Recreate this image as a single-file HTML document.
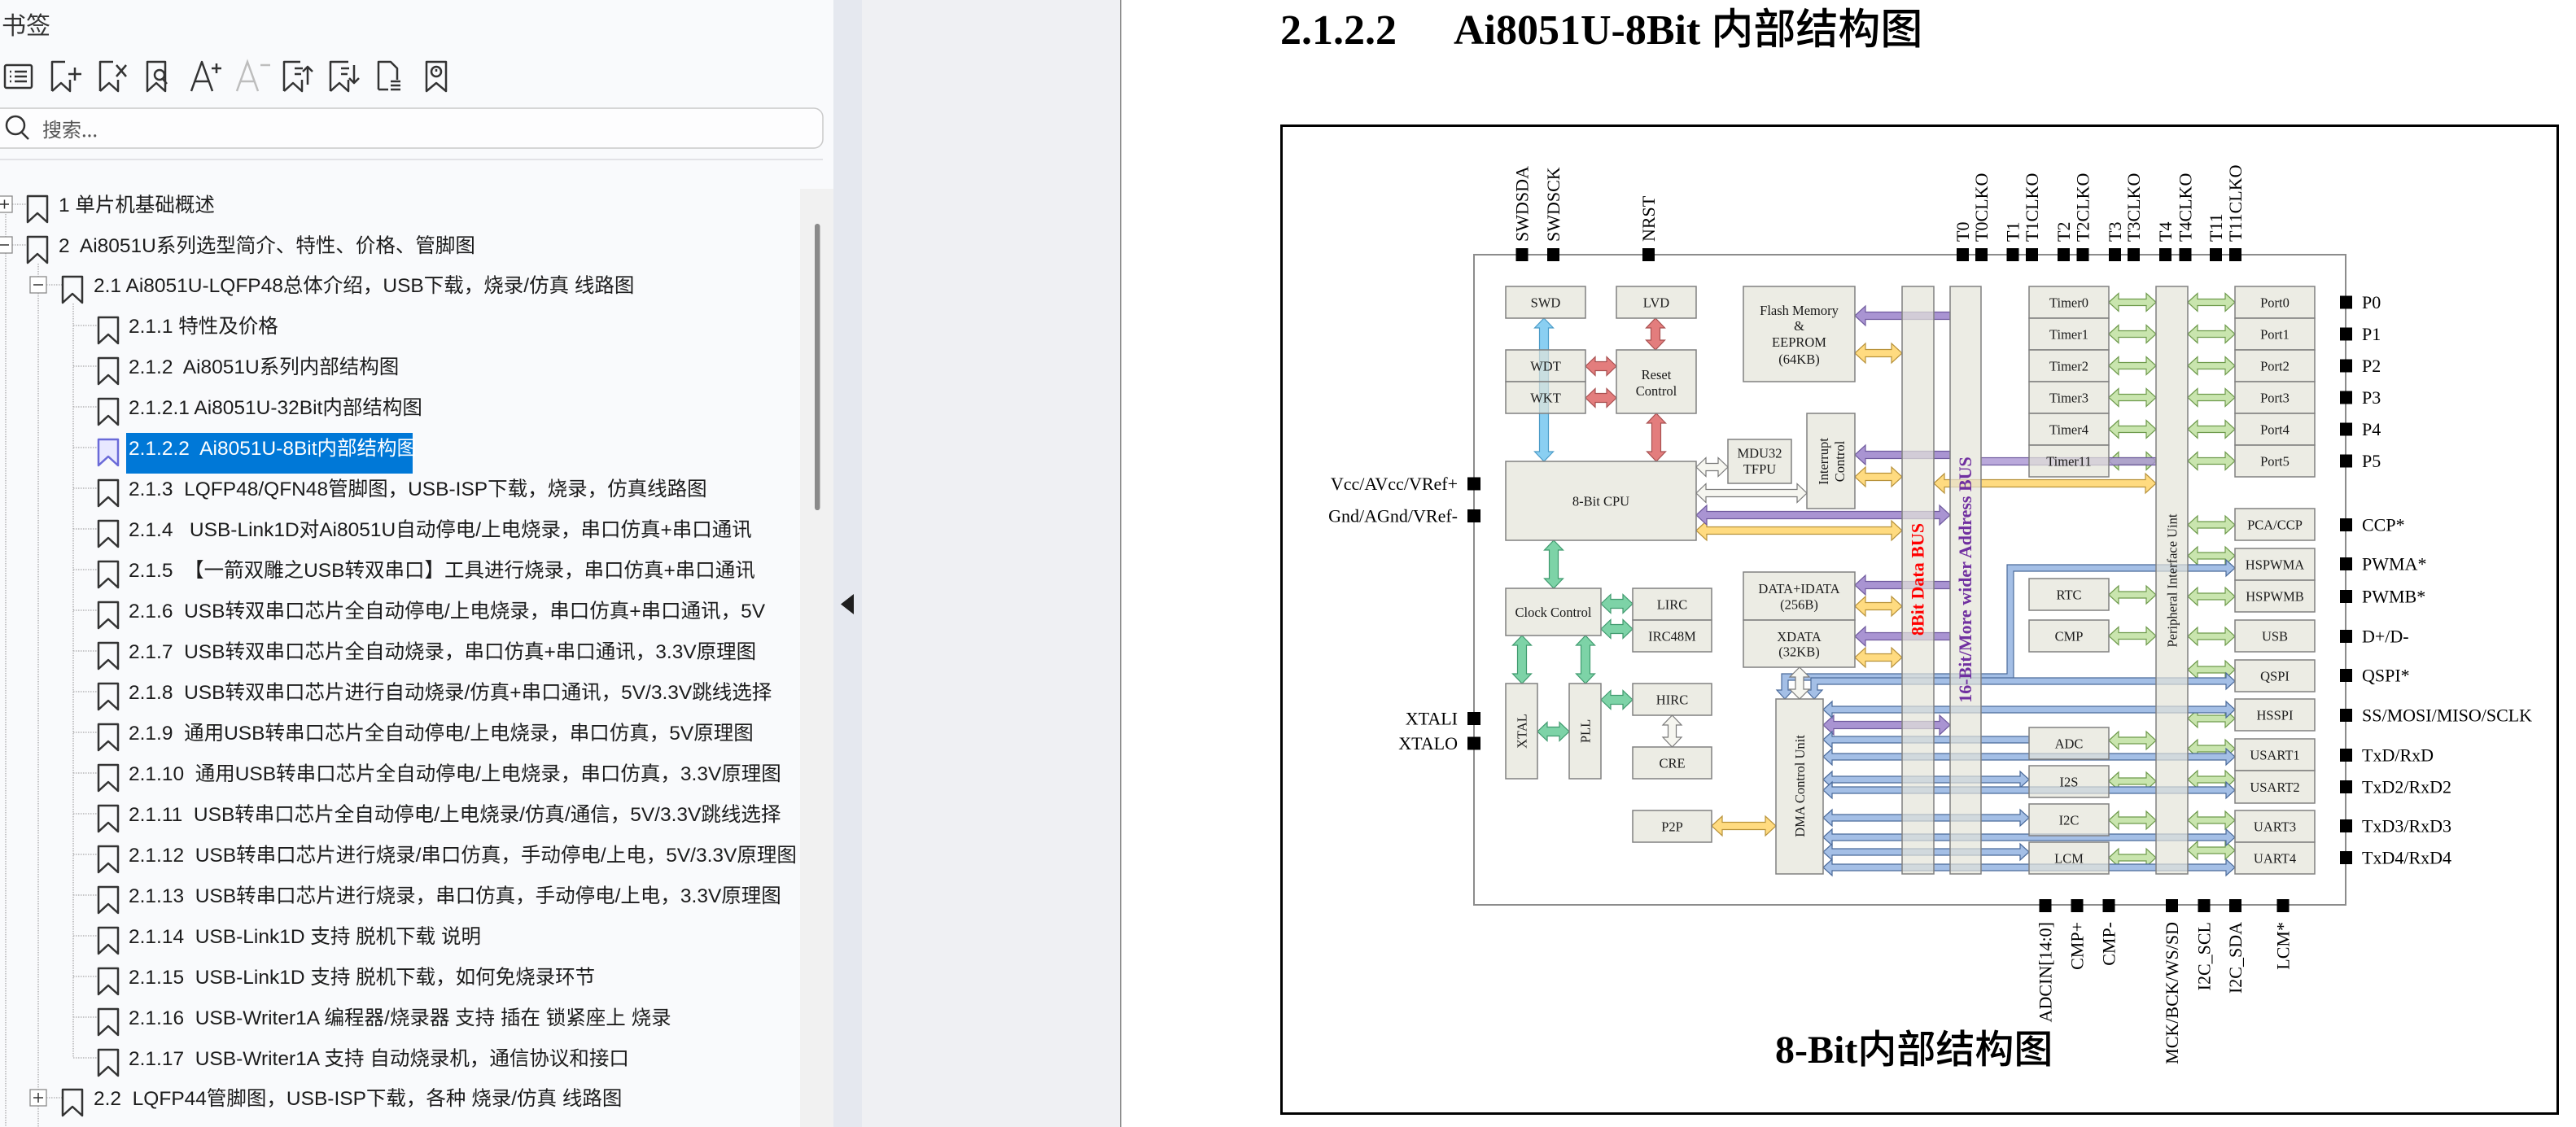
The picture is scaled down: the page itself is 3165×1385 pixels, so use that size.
<!DOCTYPE html>
<html><head><meta charset="utf-8"><style>
html,body{margin:0;padding:0;background:#fff;width:3165px;height:1385px;overflow:hidden}
svg{display:block}
text{white-space:pre}
.sb{font-family:"Liberation Sans","Noto Sans CJK SC",sans-serif;font-size:24.5px;fill:#1c1c1c}
.bx{fill:#E4E4D8;fill-opacity:.7;stroke:#808080;stroke-width:1.5}
.t{font-family:"Liberation Serif",serif;font-size:16.5px;fill:#1a1a1a;text-anchor:middle}
.pl{font-family:"Liberation Serif",serif;font-size:22px;fill:#000}
.pin{fill:#000}
.red{fill:#E37D7D;stroke:#A85050;stroke-width:1.2}
.sky{fill:#8ACFF2;stroke:#4C9CC8;stroke-width:1.2}
.mint{fill:#7DD3A7;stroke:#3F9A6E;stroke-width:1.2}
.lg{fill:#C9E5AE;stroke:#6E9A4C;stroke-width:1.2}
.yel{fill:#FFDB80;stroke:#B8923A;stroke-width:1.2}
.pur{fill:#A994D2;stroke:#6F5A9E;stroke-width:1.2}
.blu{fill:#A4BFE6;stroke:#4A6A9A;stroke-width:1.2}
.wht{fill:#F6F6F0;stroke:#7A7A7A;stroke-width:1.2}
.ic{fill:none;stroke:#333;stroke-width:2.5;stroke-linejoin:round}
.dot{stroke:#a8a8a8;stroke-width:1.3;stroke-dasharray:1.5 1.5}
</style></head><body>
<svg width="3165" height="1385" viewBox="0 0 3165 1385" xmlns="http://www.w3.org/2000/svg">
<defs><clipPath id="sbc"><rect x="0" y="0" width="983" height="1385"/></clipPath></defs>

<!-- ===== Sidebar ===== -->
<rect x="0" y="0" width="1024" height="1385" fill="#F9FAFC"/>
<text x="2" y="42" font-family="Noto Sans CJK SC, sans-serif" font-size="30" fill="#333">书签</text>
<!-- toolbar icons -->
<g class="ic">
<rect x="6" y="80" width="33" height="28" rx="2"/>
<path d="M12 88h2M12 94h2M12 100h2M18 88h15M18 94h15M18 100h15"/>
<path d="M64 112V76h16M64 112l11-10l11 10V98"/><path d="M84 91h16M92 83v16"/>
<path d="M123 112V76h16M123 112l11-10l11 10V98"/><path d="M143 80l12 14M155 80l-12 14"/>
<path d="M181 112V76h22v36l-11-10z"/><circle cx="196" cy="92" r="6"/><path d="M200 97l5 6"/>
<path d="M235 112L248 76L261 112M240 100H256M266 78v12M260 84h12"/>
<path d="M349 112V76h20M349 112l11-10l11 10V98"/><path d="M362 84h10M362 91h8M378 104V82M372 88l6-6l6 6"/>
<path d="M406 112V76h22M406 112l11-10l11 10V98"/><path d="M419 84h10M419 91h8M435 80v22M429 96l6 6l6-6"/>
<path d="M465 110V76h15l8 8v14M465 110h12"/><path d="M480 100h12M480 105h12M480 110h12"/>
<path d="M524 112V76h24v36l-12-10z"/><circle cx="536" cy="88" r="6"/><path d="M536 85v3"/>
</g>
<path d="M291 112L304 76L317 112M296 100H312M320 80h12" fill="none" stroke="#bdbdbd" stroke-width="2.5"/>
<!-- search -->
<rect x="-10" y="133" width="1021" height="49" rx="11" fill="#fdfdfe" stroke="#c9c9c9" stroke-width="1.5"/>
<circle cx="19" cy="154" r="11" fill="none" stroke="#333" stroke-width="2.5"/>
<path d="M27 163l8 8" stroke="#333" stroke-width="2.5"/>
<text x="52" y="168" font-family="Noto Sans CJK SC, sans-serif" font-size="24" fill="#555">搜索...</text>
<line x1="0" y1="196" x2="1011" y2="196" stroke="#e2e2e6" stroke-width="2"/>
<!-- scrollbar -->
<rect x="983" y="232" width="41" height="1153" fill="#F1F1F1"/>
<rect x="1001" y="275" width="6.5" height="352" rx="3.2" fill="#8a8a8a"/>

<g clip-path="url(#sbc)">
<!-- dotted tree lines -->
<line class="dot" x1="7" y1="263" x2="7" y2="291"/>
<line class="dot" x1="7" y1="311" x2="7" y2="1385"/>
<line class="dot" x1="15" y1="251" x2="33" y2="251"/>
<line class="dot" x1="15" y1="301" x2="33" y2="301"/>
<line class="dot" x1="47" y1="324" x2="47" y2="340"/>
<line class="dot" x1="47" y1="360" x2="47" y2="1339"/>
<line class="dot" x1="47" y1="1359" x2="47" y2="1385"/>
<line class="dot" x1="57" y1="350" x2="76" y2="350"/>
<line class="dot" x1="57" y1="1349" x2="76" y2="1349"/>
<line class="dot" x1="90" y1="373" x2="90" y2="1299"/>
<g class="dot">
<line x1="90" y1="400" x2="119" y2="400"/><line x1="90" y1="450" x2="119" y2="450"/>
<line x1="90" y1="500" x2="119" y2="500"/><line x1="90" y1="550" x2="119" y2="550"/>
<line x1="90" y1="600" x2="119" y2="600"/><line x1="90" y1="650" x2="119" y2="650"/>
<line x1="90" y1="700" x2="119" y2="700"/><line x1="90" y1="750" x2="119" y2="750"/>
<line x1="90" y1="800" x2="119" y2="800"/><line x1="90" y1="850" x2="119" y2="850"/>
<line x1="90" y1="900" x2="119" y2="900"/><line x1="90" y1="950" x2="119" y2="950"/>
<line x1="90" y1="1000" x2="119" y2="1000"/><line x1="90" y1="1050" x2="119" y2="1050"/>
<line x1="90" y1="1100" x2="119" y2="1100"/><line x1="90" y1="1150" x2="119" y2="1150"/>
<line x1="90" y1="1200" x2="119" y2="1200"/><line x1="90" y1="1250" x2="119" y2="1250"/>
<line x1="90" y1="1300" x2="119" y2="1300"/>
</g>
<!-- expand boxes -->
<g fill="#fff" stroke="#8a8a8a" stroke-width="1.3">
<rect x="-4" y="241" width="19" height="20"/><rect x="-4" y="291" width="19" height="20"/>
<rect x="37" y="340" width="20" height="20"/><rect x="37" y="1339" width="20" height="20"/>
</g>
<path d="M0 251h11M5.5 245.5v11M0 301h11M41 350h12M41 1349h12M47 1343v12" stroke="#333" stroke-width="1.5"/>
<!-- bookmark icons -->
<g class="ic">
<path d="M34 241h24v32l-12-11l-12 11z"/>
<path d="M34 291h24v32l-12-11l-12 11z"/>
<path d="M77 340h24v32l-12-11l-12 11z"/>
<path d="M77 1339h24v32l-12-11l-12 11z"/>
<path d="M121 390h24v32l-12-11l-12 11z"/>
<path d="M121 440h24v32l-12-11l-12 11z"/>
<path d="M121 490h24v32l-12-11l-12 11z"/>
<path d="M121 590h24v32l-12-11l-12 11z"/>
<path d="M121 640h24v32l-12-11l-12 11z"/>
<path d="M121 690h24v32l-12-11l-12 11z"/>
<path d="M121 740h24v32l-12-11l-12 11z"/>
<path d="M121 790h24v32l-12-11l-12 11z"/>
<path d="M121 840h24v32l-12-11l-12 11z"/>
<path d="M121 890h24v32l-12-11l-12 11z"/>
<path d="M121 940h24v32l-12-11l-12 11z"/>
<path d="M121 990h24v32l-12-11l-12 11z"/>
<path d="M121 1040h24v32l-12-11l-12 11z"/>
<path d="M121 1090h24v32l-12-11l-12 11z"/>
<path d="M121 1140h24v32l-12-11l-12 11z"/>
<path d="M121 1190h24v32l-12-11l-12 11z"/>
<path d="M121 1240h24v32l-12-11l-12 11z"/>
<path d="M121 1290h24v32l-12-11l-12 11z"/>
</g>
<path d="M121 540h24v32l-12-11l-12 11z" fill="#E8E8FF" stroke="#6A6AD8" stroke-width="2.5" stroke-linejoin="round"/>
<rect x="155" y="532" width="352" height="50" fill="#0078D7"/>
<!-- row texts -->
<text class="sb" x="72" y="260">1 单片机基础概述</text>
<text class="sb" x="72" y="310">2  Ai8051U系列选型简介、特性、价格、管脚图</text>
<text class="sb" x="115" y="359">2.1 Ai8051U-LQFP48总体介绍，USB下载，烧录/仿真 线路图</text>
<text class="sb" x="158" y="409">2.1.1 特性及价格</text>
<text class="sb" x="158" y="459">2.1.2  Ai8051U系列内部结构图</text>
<text class="sb" x="158" y="509">2.1.2.1 Ai8051U-32Bit内部结构图</text>
<text class="sb" x="158" y="559" style="fill:#fff">2.1.2.2  Ai8051U-8Bit内部结构图</text>
<text class="sb" x="158" y="609">2.1.3  LQFP48/QFN48管脚图，USB-ISP下载，烧录，仿真线路图</text>
<text class="sb" x="158" y="659">2.1.4   USB-Link1D对Ai8051U自动停电/上电烧录，串口仿真+串口通讯</text>
<text class="sb" x="158" y="709">2.1.5  【一箭双雕之USB转双串口】工具进行烧录，串口仿真+串口通讯</text>
<text class="sb" x="158" y="759">2.1.6  USB转双串口芯片全自动停电/上电烧录，串口仿真+串口通讯，5V</text>
<text class="sb" x="158" y="809">2.1.7  USB转双串口芯片全自动烧录，串口仿真+串口通讯，3.3V原理图</text>
<text class="sb" x="158" y="859">2.1.8  USB转双串口芯片进行自动烧录/仿真+串口通讯，5V/3.3V跳线选择</text>
<text class="sb" x="158" y="909">2.1.9  通用USB转串口芯片全自动停电/上电烧录，串口仿真，5V原理图</text>
<text class="sb" x="158" y="959">2.1.10  通用USB转串口芯片全自动停电/上电烧录，串口仿真，3.3V原理图</text>
<text class="sb" x="158" y="1009">2.1.11  USB转串口芯片全自动停电/上电烧录/仿真/通信，5V/3.3V跳线选择</text>
<text class="sb" x="158" y="1059">2.1.12  USB转串口芯片进行烧录/串口仿真，手动停电/上电，5V/3.3V原理图</text>
<text class="sb" x="158" y="1109">2.1.13  USB转串口芯片进行烧录，串口仿真，手动停电/上电，3.3V原理图</text>
<text class="sb" x="158" y="1159">2.1.14  USB-Link1D 支持 脱机下载 说明</text>
<text class="sb" x="158" y="1209">2.1.15  USB-Link1D 支持 脱机下载，如何免烧录环节</text>
<text class="sb" x="158" y="1259">2.1.16  USB-Writer1A 编程器/烧录器 支持 插在 锁紧座上 烧录</text>
<text class="sb" x="158" y="1309">2.1.17  USB-Writer1A 支持 自动烧录机，通信协议和接口</text>
<text class="sb" x="115" y="1358">2.2  LQFP44管脚图，USB-ISP下载，各种 烧录/仿真 线路图</text>
</g>

<!-- ===== middle strip ===== -->
<rect x="1024" y="0" width="35" height="1385" fill="#E5E8EF"/>
<rect x="1059" y="0" width="317" height="1385" fill="#EFF0F3"/>
<rect x="1376" y="0" width="1.6" height="1385" fill="#858585"/>
<path d="M1033 742.5L1049 730V755z" fill="#1e1e1e"/>

<!-- ===== page ===== -->
<text x="1573" y="54" font-family="Liberation Serif, serif" font-weight="bold" font-size="52" fill="#000">2.1.2.2</text>
<text x="1786" y="54" font-family="Liberation Serif, serif" font-weight="bold" font-size="52" fill="#000">Ai8051U-8Bit <tspan font-family="Noto Sans CJK SC, sans-serif" font-weight="500">内部结构图</tspan></text>

<rect x="1574.5" y="154.5" width="1568" height="1214" fill="none" stroke="#000" stroke-width="3"/>
<rect x="1811" y="313" width="1071" height="799" fill="none" stroke="#8c8c8c" stroke-width="2"/>

<!-- arrows -->
<g class="mint">
<path d="M1909 664l11.5 12h-6v35h6l-11.5 12l-11.5-12h6v-35h-6z"/>
<path d="M1967 742l12-11.5v6h15v-6l12 11.5l-12 11.5v-6h-15v6z"/>
<path d="M1967 773l12-11.5v6h15v-6l12 11.5l-12 11.5v-6h-15v6z"/>
<path d="M1870 781l11.5 12h-6v35h6l-11.5 12l-11.5-12h6v-35h-6z"/>
<path d="M1948 781l11.5 12h-6v35h6l-11.5 12l-11.5-12h6v-35h-6z"/>
<path d="M1889 899l12-11.5v6h15v-6l12 11.5l-12 11.5v-6h-15v6z"/>
<path d="M1967 860l12-11.5v6h15v-6l12 11.5l-12 11.5v-6h-15v6z"/>
</g>
<g class="red">
<path d="M2034 391l11.5 12h-6v15h6l-11.5 12l-11.5-12h6v-15h-6z"/>
<path d="M1948 450l12-11.5v6h14v-6l12 11.5l-12 11.5v-6h-14v6z"/>
<path d="M1948 489l12-11.5v6h14v-6l12 11.5l-12 11.5v-6h-14v6z"/>
<path d="M2035 508l11.5 12h-6v35h6l-11.5 12l-11.5-12h6v-35h-6z"/>
</g>
<path class="sky" d="M1897 391l11.5 12h-6v152h6l-11.5 12l-11.5-12h6v-152h-6z"/>
<g class="wht">
<path d="M2084 574l12-11.5v7h15v-7l12 11.5l-12 11.5v-7h-15v7z"/>
<path d="M2084 606l12-11.5v7h112v-7l12 11.5l-12 11.5v-7h-112v7z"/>
<path d="M2054.5 879l11.5 12h-6.5v15h6.5l-11.5 12l-11.5-12h6.5v-15h-6.5z"/>
</g>
<g class="lg">
<path d="M2591 371.5l12-11v7h34v-7l12 11l-12 11v-7h-34v7z"/>
<path d="M2591 410.5l12-11v7h34v-7l12 11l-12 11v-7h-34v7z"/>
<path d="M2591 449.5l12-11v7h34v-7l12 11l-12 11v-7h-34v7z"/>
<path d="M2591 488.5l12-11v7h34v-7l12 11l-12 11v-7h-34v7z"/>
<path d="M2591 527.5l12-11v7h34v-7l12 11l-12 11v-7h-34v7z"/>
<path d="M2591 566.5l12-11v7h34v-7l12 11l-12 11v-7h-34v7z"/>
<path d="M2688 371.5l12-11v7h34v-7l12 11l-12 11v-7h-34v7z"/>
<path d="M2688 410.5l12-11v7h34v-7l12 11l-12 11v-7h-34v7z"/>
<path d="M2688 449.5l12-11v7h34v-7l12 11l-12 11v-7h-34v7z"/>
<path d="M2688 488.5l12-11v7h34v-7l12 11l-12 11v-7h-34v7z"/>
<path d="M2688 527.5l12-11v7h34v-7l12 11l-12 11v-7h-34v7z"/>
<path d="M2688 566.5l12-11v7h34v-7l12 11l-12 11v-7h-34v7z"/>
<path d="M2591 731l12-11v7h34v-7l12 11l-12 11v-7h-34v7z"/>
<path d="M2591 781.5l12-11v7h34v-7l12 11l-12 11v-7h-34v7z"/>
<path d="M2591 910l12-11v7h34v-7l12 11l-12 11v-7h-34v7z"/>
<path d="M2591 960l12-11v7h34v-7l12 11l-12 11v-7h-34v7z"/>
<path d="M2591 1008l12-11v7h34v-7l12 11l-12 11v-7h-34v7z"/>
<path d="M2591 1054l12-11v7h34v-7l12 11l-12 11v-7h-34v7z"/>
<path d="M2688 645l12-11v7h34v-7l12 11l-12 11v-7h-34v7z"/>
<path d="M2688 683l12-11v7h34v-7l12 11l-12 11v-7h-34v7z"/>
<path d="M2688 733l12-11v7h34v-7l12 11l-12 11v-7h-34v7z"/>
<path d="M2688 782l12-11v7h34v-7l12 11l-12 11v-7h-34v7z"/>
<path d="M2688 823l12-11v7h34v-7l12 11l-12 11v-7h-34v7z"/>
<path d="M2688 883l12-11v7h34v-7l12 11l-12 11v-7h-34v7z"/>
<path d="M2688 920l12-11v7h34v-7l12 11l-12 11v-7h-34v7z"/>
<path d="M2688 958l12-11v7h34v-7l12 11l-12 11v-7h-34v7z"/>
<path d="M2688 1008l12-11v7h34v-7l12 11l-12 11v-7h-34v7z"/>
<path d="M2688 1045l12-11v7h34v-7l12 11l-12 11v-7h-34v7z"/>
</g>
<g class="yel">
<path d="M2279 434l13-12v7.5h32v-7.5l13 12l-13 12v-7.5h-32v7.5z"/>
<path d="M2279 586l13-12v7.5h32v-7.5l13 12l-13 12v-7.5h-32v7.5z"/>
<path d="M2084 652l13-12v7.5h227v-7.5l13 12l-13 12v-7.5h-227v7.5z"/>
<path d="M2279 745l13-12v7.5h32v-7.5l13 12l-13 12v-7.5h-32v7.5z"/>
<path d="M2279 808l13-12v7.5h32v-7.5l13 12l-13 12v-7.5h-32v7.5z"/>
<path d="M2376 594l13-12v7.5h247v-7.5l13 12l-13 12v-7.5h-247v7.5z"/>
<path d="M2103 1015l13-12v7.5h53v-7.5l13 12l-13 12v-7.5h-53v7.5z"/>
</g>
<g class="pur">
<path d="M2279 388l13-12v7.5h104v9h-104v7.5z"/>
<path d="M2279 559l13-12v7.5h104v9h-104v7.5z"/>
<path d="M2084 633l13-12v7.5h286v-7.5l13 12l-13 12v-7.5h-286v7.5z"/>
<path d="M2279 719l13-12v7.5h104v9h-104v7.5z"/>
<path d="M2279 782l13-12v7.5h104v9h-104v7.5z"/>
<path d="M2240 891l13-12v7.5h130v-7.5l13 12l-13 12v-7.5h-130v7.5z"/>
<rect x="2434" y="562.5" width="215" height="9" fill-opacity=".8"/>
</g>
<g class="blu">
<polygon points="2193,859 2203,848 2197,848 2197,836 2474,836 2474,702 2735,702 2735,708 2746,698 2735,688 2735,694 2466,694 2466,828 2189,828 2189,848 2183,848"/>
<polygon points="2229,859 2239,848 2233,848 2233,841 2735,841 2735,847 2746,837 2735,827 2735,833 2225,833 2225,848 2219,848"/>
<path d="M2240 872l11-10v6h484v-6l11 10l-11 10v-6h-484v6z"/>
<path d="M2240 909l11-10v6h242v8h-242v6z"/>
<path d="M2240 930l11-10v6h484v-6l11 10l-11 10v-6h-484v6z"/>
<path d="M2240 958l11-10v6h231v-6l11 10l-11 10v-6h-231v6z"/>
<path d="M2240 971l11-10v6h484v-6l11 10l-11 10v-6h-484v6z"/>
<path d="M2240 1005l11-10v6h231v-6l11 10l-11 10v-6h-231v6z"/>
<path d="M2240 1029l11-10v6h484v-6l11 10l-11 10v-6h-484v6z"/>
<path d="M2240 1047l11-10v6h231v-6l11 10l-11 10v-6h-231v6z"/>
<path d="M2240 1066l11-10v6h484v-6l11 10l-11 10v-6h-484v6z"/>
</g>
<path class="wht" d="M2211 820l12 12h-7v15h7l-12 12l-12-12h7v-15h-7z"/>

<!-- boxes & bars -->
<g class="bx">
<rect x="1850" y="352" width="98" height="39"/>
<rect x="1986" y="352" width="98" height="39"/>
<rect x="1850" y="430" width="98" height="39"/>
<rect x="1850" y="469" width="98" height="39"/>
<rect x="1986" y="430" width="98" height="78"/>
<rect x="2142" y="352" width="137" height="117"/>
<rect x="2123" y="540" width="78" height="54"/>
<rect x="2220" y="508" width="59" height="117"/>
<rect x="1850" y="567" width="234" height="97"/>
<rect x="1850" y="723" width="117" height="58"/>
<rect x="2006" y="723" width="97" height="39"/>
<rect x="2006" y="762" width="97" height="39"/>
<rect x="1850" y="840" width="39" height="117"/>
<rect x="1928" y="840" width="39" height="117"/>
<rect x="2006" y="840" width="97" height="39"/>
<rect x="2006" y="918" width="97" height="39"/>
<rect x="2006" y="996" width="97" height="39"/>
<rect x="2142" y="703" width="137" height="59"/>
<rect x="2142" y="762" width="137" height="58"/>
<rect x="2182" y="859" width="58" height="215"/>
<rect x="2337" y="352" width="39" height="722"/>
<rect x="2396" y="352" width="38" height="722"/>
<rect x="2649" y="352" width="39" height="722"/>
<rect x="2493" y="352" width="98" height="39"/>
<rect x="2493" y="391" width="98" height="39"/>
<rect x="2493" y="430" width="98" height="39"/>
<rect x="2493" y="469" width="98" height="39"/>
<rect x="2493" y="508" width="98" height="39"/>
<rect x="2493" y="547" width="98" height="39"/>
<rect x="2746" y="352" width="98" height="39"/>
<rect x="2746" y="391" width="98" height="39"/>
<rect x="2746" y="430" width="98" height="39"/>
<rect x="2746" y="469" width="98" height="39"/>
<rect x="2746" y="508" width="98" height="39"/>
<rect x="2746" y="547" width="98" height="39"/>
<rect x="2493" y="711" width="98" height="39"/>
<rect x="2493" y="762" width="98" height="39"/>
<rect x="2493" y="894" width="98" height="39"/>
<rect x="2493" y="941" width="98" height="39"/>
<rect x="2493" y="988" width="98" height="39"/>
<rect x="2493" y="1035" width="98" height="39"/>
<rect x="2746" y="625" width="98" height="39"/>
<rect x="2746" y="674" width="98" height="39"/>
<rect x="2746" y="713" width="98" height="39"/>
<rect x="2746" y="762" width="98" height="39"/>
<rect x="2746" y="811" width="98" height="39"/>
<rect x="2746" y="859" width="98" height="39"/>
<rect x="2746" y="908" width="98" height="39"/>
<rect x="2746" y="947" width="98" height="40"/>
<rect x="2746" y="996" width="98" height="39"/>
<rect x="2746" y="1035" width="98" height="39"/>
</g>

<!-- box labels -->
<g class="t">
<text x="1899" y="377.5">SWD</text>
<text x="2035" y="377.5">LVD</text>
<text x="1899" y="455.5">WDT</text>
<text x="1899" y="494.5">WKT</text>
<text x="2035" y="466">Reset</text>
<text x="2035" y="486">Control</text>
<text x="2210.5" y="387">Flash Memory</text>
<text x="2210.5" y="406">&amp;</text>
<text x="2210.5" y="426">EEPROM</text>
<text x="2210.5" y="447">(64KB)</text>
<text x="2162" y="562.5">MDU32</text>
<text x="2162" y="582">TFPU</text>
<text transform="translate(2246,567) rotate(-90)">Interrupt</text>
<text transform="translate(2266,567) rotate(-90)">Control</text>
<text x="1967" y="621.5">8-Bit CPU</text>
<text x="1908.5" y="758">Clock Control</text>
<text x="2054.5" y="748.5">LIRC</text>
<text x="2054.5" y="787.5">IRC48M</text>
<text transform="translate(1875.5,898.5) rotate(-90)">XTAL</text>
<text transform="translate(1953.5,898.5) rotate(-90)">PLL</text>
<text x="2054.5" y="865.5">HIRC</text>
<text x="2054.5" y="943.5">CRE</text>
<text x="2054.5" y="1021.5">P2P</text>
<text x="2210.5" y="729">DATA+IDATA</text>
<text x="2210.5" y="748.5">(256B)</text>
<text x="2210.5" y="788">XDATA</text>
<text x="2210.5" y="806.5">(32KB)</text>
<text transform="translate(2217,966) rotate(-90)">DMA Control Unit</text>
<text transform="translate(2674.5,713.5) rotate(-90)">Peripheral Interface Uint</text>
<text x="2542" y="377.5">Timer0</text>
<text x="2542" y="416.5">Timer1</text>
<text x="2542" y="455.5">Timer2</text>
<text x="2542" y="494.5">Timer3</text>
<text x="2542" y="533.5">Timer4</text>
<text x="2542" y="572.5">Timer11</text>
<text x="2795" y="377.5">Port0</text>
<text x="2795" y="416.5">Port1</text>
<text x="2795" y="455.5">Port2</text>
<text x="2795" y="494.5">Port3</text>
<text x="2795" y="533.5">Port4</text>
<text x="2795" y="572.5">Port5</text>
<text x="2542" y="736.5">RTC</text>
<text x="2542" y="787.5">CMP</text>
<text x="2542" y="919.5">ADC</text>
<text x="2542" y="966.5">I2S</text>
<text x="2542" y="1013.5">I2C</text>
<text x="2542" y="1060.5">LCM</text>
<text x="2795" y="650.5">PCA/CCP</text>
<text x="2795" y="699.5">HSPWMA</text>
<text x="2795" y="738.5">HSPWMB</text>
<text x="2795" y="787.5">USB</text>
<text x="2795" y="836.5">QSPI</text>
<text x="2795" y="884.5">HSSPI</text>
<text x="2795" y="933.5">USART1</text>
<text x="2795" y="973">USART2</text>
<text x="2795" y="1021.5">UART3</text>
<text x="2795" y="1060.5">UART4</text>
</g>
<text transform="translate(2363.5,712) rotate(-90)" text-anchor="middle" font-family="Liberation Serif, serif" font-weight="bold" font-size="22" fill="#FF0000">8Bit Data BUS</text>
<text transform="translate(2422,712.5) rotate(-90)" text-anchor="middle" font-family="Liberation Serif, serif" font-weight="bold" font-size="22" fill="#7030A0">16-Bit/More wider Address BUS</text>

<!-- pins -->
<g class="pin">
<rect x="1862.5" y="305" width="15" height="16"/><rect x="1901" y="305" width="15" height="16"/>
<rect x="2018" y="305" width="15" height="16"/>
<rect x="2404" y="305" width="15" height="16"/><rect x="2427" y="305" width="15" height="16"/>
<rect x="2465.5" y="305" width="15" height="16"/><rect x="2489" y="305" width="15" height="16"/>
<rect x="2528" y="305" width="15" height="16"/><rect x="2551.5" y="305" width="15" height="16"/>
<rect x="2591" y="305" width="15" height="16"/><rect x="2614" y="305" width="15" height="16"/>
<rect x="2653" y="305" width="15" height="16"/><rect x="2677.5" y="305" width="15" height="16"/>
<rect x="2715" y="305" width="15" height="16"/><rect x="2739" y="305" width="15" height="16"/>
<rect x="1803" y="586.5" width="16" height="16"/><rect x="1803" y="626" width="16" height="16"/>
<rect x="1803" y="875" width="16" height="16"/><rect x="1803" y="905.5" width="16" height="16"/>
<rect x="2875" y="363.5" width="15" height="16"/><rect x="2875" y="402.5" width="15" height="16"/>
<rect x="2875" y="441.5" width="15" height="16"/><rect x="2875" y="480.5" width="15" height="16"/>
<rect x="2875" y="519.5" width="15" height="16"/><rect x="2875" y="558.5" width="15" height="16"/>
<rect x="2875" y="637" width="15" height="16"/><rect x="2875" y="685" width="15" height="16"/>
<rect x="2875" y="725" width="15" height="16"/><rect x="2875" y="774" width="15" height="16"/>
<rect x="2875" y="822" width="15" height="16"/><rect x="2875" y="871" width="15" height="16"/>
<rect x="2875" y="920" width="15" height="16"/><rect x="2875" y="959" width="15" height="16"/>
<rect x="2875" y="1007" width="15" height="16"/><rect x="2875" y="1046" width="15" height="16"/>
<rect x="2505.5" y="1105" width="15" height="16"/><rect x="2544.5" y="1105" width="15" height="16"/>
<rect x="2583.5" y="1105" width="15" height="16"/><rect x="2661" y="1105" width="15" height="16"/>
<rect x="2700.5" y="1105" width="15" height="16"/><rect x="2739" y="1105" width="15" height="16"/>
<rect x="2797.5" y="1105" width="15" height="16"/>
</g>

<!-- pin labels -->
<g class="pl">
<text transform="translate(1877.5,297) rotate(-90)">SWDSDA</text>
<text transform="translate(1916,297) rotate(-90)">SWDSCK</text>
<text transform="translate(2033,297) rotate(-90)">NRST</text>
<text transform="translate(2419,297) rotate(-90)">T0</text>
<text transform="translate(2442,297) rotate(-90)">T0CLKO</text>
<text transform="translate(2480.5,297) rotate(-90)">T1</text>
<text transform="translate(2504,297) rotate(-90)">T1CLKO</text>
<text transform="translate(2543,297) rotate(-90)">T2</text>
<text transform="translate(2566.5,297) rotate(-90)">T2CLKO</text>
<text transform="translate(2606,297) rotate(-90)">T3</text>
<text transform="translate(2629,297) rotate(-90)">T3CLKO</text>
<text transform="translate(2668,297) rotate(-90)">T4</text>
<text transform="translate(2692.5,297) rotate(-90)">T4CLKO</text>
<text transform="translate(2730,297) rotate(-90)">T11</text>
<text transform="translate(2754,297) rotate(-90)">T11CLKO</text>
<text x="1791" y="602" text-anchor="end">Vcc/AVcc/VRef+</text>
<text x="1791" y="641.5" text-anchor="end">Gnd/AGnd/VRef-</text>
<text x="1791" y="890.5" text-anchor="end">XTALI</text>
<text x="1791" y="921" text-anchor="end">XTALO</text>
<text x="2902" y="379">P0</text>
<text x="2902" y="418">P1</text>
<text x="2902" y="457">P2</text>
<text x="2902" y="496">P3</text>
<text x="2902" y="535">P4</text>
<text x="2902" y="574">P5</text>
<text x="2902" y="652.5">CCP*</text>
<text x="2902" y="700.5">PWMA*</text>
<text x="2902" y="740.5">PWMB*</text>
<text x="2902" y="789.5">D+/D-</text>
<text x="2902" y="837.5">QSPI*</text>
<text x="2902" y="886.5">SS/MOSI/MISO/SCLK</text>
<text x="2902" y="935.5">TxD/RxD</text>
<text x="2902" y="974.5">TxD2/RxD2</text>
<text x="2902" y="1022.5">TxD3/RxD3</text>
<text x="2902" y="1061.5">TxD4/RxD4</text>
<text transform="translate(2520.5,1133) rotate(-90)" text-anchor="end">ADCIN[14:0]</text>
<text transform="translate(2559.5,1133) rotate(-90)" text-anchor="end">CMP+</text>
<text transform="translate(2598.5,1133) rotate(-90)" text-anchor="end">CMP-</text>
<text transform="translate(2676,1133) rotate(-90)" text-anchor="end">MCK/BCK/WS/SD</text>
<text transform="translate(2715.5,1133) rotate(-90)" text-anchor="end">I2C_SCL</text>
<text transform="translate(2754,1133) rotate(-90)" text-anchor="end">I2C_SDA</text>
<text transform="translate(2812.5,1133) rotate(-90)" text-anchor="end">LCM*</text>
</g>

<text x="2181" y="1306" font-family="Liberation Serif, serif" font-weight="bold" font-size="48" fill="#000">8-Bit<tspan font-family="Noto Sans CJK SC, sans-serif" font-weight="500">内部结构图</tspan></text>
</svg>
</body></html>
